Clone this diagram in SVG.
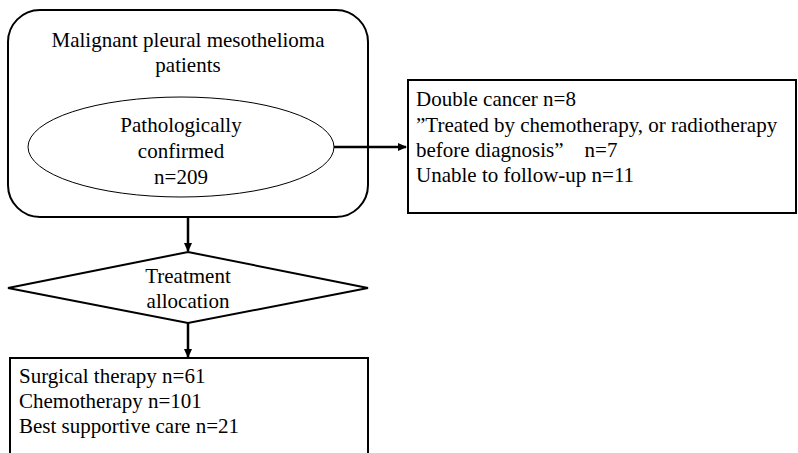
<svg xmlns="http://www.w3.org/2000/svg" width="798" height="453" viewBox="0 0 798 453">
<defs>
<style>
text{font-family:"Liberation Serif","Times New Roman",serif;font-size:21px;fill:#000}
.c{text-anchor:middle}
.s{fill:#fff;stroke:#000;stroke-width:2}
.t{fill:#fff;stroke:#000;stroke-width:1}
.e{stroke:#000;stroke-width:2.5;fill:none}
</style>
<marker id="ah" markerWidth="10" markerHeight="10" refX="8" refY="5" orient="auto" markerUnits="userSpaceOnUse">
<path d="M0,1 L9,5 L0,9 Z" fill="#000"/>
</marker>
</defs>
<rect width="798" height="453" fill="#fff"/>
<g id="patients">
<rect class="s" x="8" y="10" width="360" height="207" rx="32" ry="32"/>
<text class="c" x="188" y="47">Malignant pleural mesothelioma</text>
<text class="c" x="188" y="72">patients</text>
</g>
<g id="confirmed">
<ellipse class="t" cx="181" cy="147" rx="153" ry="50"/>
<text class="c" x="181" y="132">Pathologically</text>
<text class="c" x="181" y="158">confirmed</text>
<text class="c" x="181" y="184">n=209</text>
</g>
<g id="excluded">
<rect class="s" x="408" y="80" width="388" height="133"/>
<text x="416" y="106">Double cancer n=8</text>
<text x="416" y="132" xml:space="preserve">”Treated by chemotherapy, or radiotherapy</text>
<text x="416" y="157" xml:space="preserve">before diagnosis”    n=7</text>
<text x="416" y="182">Unable to follow-up n=11</text>
</g>
<g id="allocation">
<polygon class="s" points="188,252 368,288 188,323 8,288"/>
<text class="c" x="188" y="283">Treatment</text>
<text class="c" x="188" y="308">allocation</text>
</g>
<g id="treatment">
<rect class="s" x="10" y="358" width="358" height="110"/>
<text x="19" y="383">Surgical therapy n=61</text>
<text x="19" y="408">Chemotherapy n=101</text>
<text x="19" y="433">Best supportive care n=21</text>
</g>
<g id="connectors">
<line class="e" x1="334" y1="147" x2="406" y2="147" marker-end="url(#ah)"/>
<line class="e" x1="188" y1="217" x2="188" y2="251" marker-end="url(#ah)"/>
<line class="e" x1="188" y1="323" x2="188" y2="357" marker-end="url(#ah)"/>
</g>
</svg>
